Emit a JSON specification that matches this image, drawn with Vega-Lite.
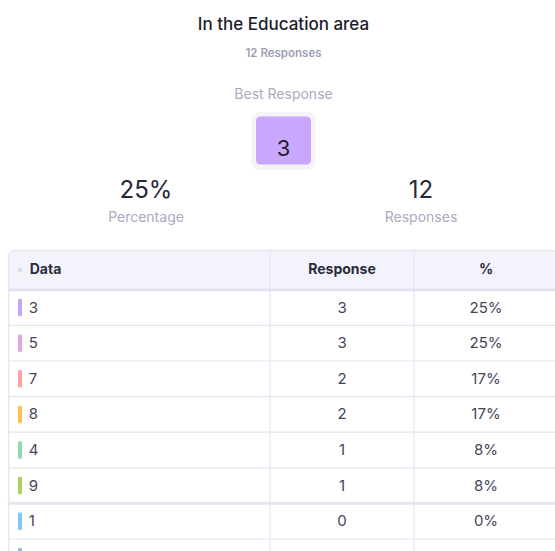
{
  "$schema": "https://vega.github.io/schema/vega-lite/v6.json",
  "background": "white",
  "padding": {"top": 15, "left": 0, "right": 0, "bottom": 0},
  "spacing": 0,
  "title": {
    "text": "In the Education area",
    "subtitle": "12 Responses",
    "anchor": "middle",
    "dx": 6,
    "offset": 0,
    "font": "Inter",
    "fontSize": 17,
    "fontWeight": 500,
    "color": "#1c1c2c",
    "subtitleFont": "Inter",
    "subtitleFontSize": 11.5,
    "subtitleFontWeight": 600,
    "subtitleColor": "#9d9fb8",
    "subtitlePadding": 14
  },
  "config": {
    "view": {"stroke": null},
    "font": "Inter",
    "axis": {"disable": true},
    "legend": {"disable": true}
  },
  "datasets": {
    "summary": [
      {"metric": "Percentage", "tier": "stats", "value": "25%"},
      {"metric": "Best Response", "tier": "best", "value": "3"},
      {"metric": "Responses", "tier": "stats", "value": "12"}
    ],
    "columns": [
      {"column": "Data", "index": 0},
      {"column": "Response", "index": 1},
      {"column": "%", "index": 2}
    ],
    "rows": [
      {"rank": 1, "data": "3", "response": 3, "pct": 0.25},
      {"rank": 2, "data": "5", "response": 3, "pct": 0.25},
      {"rank": 3, "data": "7", "response": 2, "pct": 0.17},
      {"rank": 4, "data": "8", "response": 2, "pct": 0.17},
      {"rank": 5, "data": "4", "response": 1, "pct": 0.08},
      {"rank": 6, "data": "9", "response": 1, "pct": 0.08},
      {"rank": 7, "data": "1", "response": 0, "pct": 0},
      {"rank": 8, "data": "2", "response": 0, "pct": 0},
      {"rank": 9, "data": "6", "response": 0, "pct": 0}
    ]
  },
  "vconcat": [
    {
      "width": 555,
      "height": 188.5,
      "data": {"name": "summary"},
      "encoding": {
        "x": {"field": "metric", "type": "nominal", "axis": null, "scale": {"type": "point", "padding": 0, "domain": ["Percentage", "Best Response", "Responses"], "range": [146, 421]}},
        "y": {"field": "tier", "type": "nominal", "axis": null, "scale": {"type": "point", "padding": 0, "domain": ["best", "stats"], "range": [80.5, 130.5]}}
      },
      "layer": [
        {"transform": [{"filter": "datum.tier === 'best'"}], "mark": {"type": "rect", "width": 64, "height": 58, "fill": "#f4f4f8", "cornerRadius": 8, "yOffset": 0.5}},
        {"transform": [{"filter": "datum.tier === 'best'"}], "mark": {"type": "rect", "width": 55, "height": 48, "fill": "#c8a7fd", "cornerRadius": 4}},
        {"transform": [{"filter": "datum.tier === 'best'"}], "mark": {"type": "text", "fontSize": 22, "dy": 8, "color": "#1d1d30", "baseline": "middle"}, "encoding": {"text": {"field": "value"}}},
        {"transform": [{"filter": "datum.tier === 'best'"}], "mark": {"type": "text", "fontSize": 14, "dy": -45.5, "color": "#a9abbf", "baseline": "middle"}, "encoding": {"text": {"field": "metric"}}},
        {"transform": [{"filter": "datum.tier === 'stats'"}], "mark": {"type": "text", "fontSize": 24, "color": "#27273a", "baseline": "middle"}, "encoding": {"text": {"field": "value"}}},
        {"transform": [{"filter": "datum.tier === 'stats'"}], "mark": {"type": "text", "fontSize": 14, "dy": 27.6, "color": "#a9abbf", "baseline": "middle"}, "encoding": {"text": {"field": "metric"}}}
      ]
    },
    {
      "width": 555,
      "height": 303.5,
      "data": {"name": "rows"},
      "layer": [
        {
          "data": {"values": [{"part": "header"}]},
          "mark": {"type": "rect", "fill": "#f3f4fb", "cornerRadiusTopLeft": 6, "clip": true},
          "encoding": {
            "x": {"datum": 0, "type": "quantitative", "axis": null, "scale": {"domain": [0, 1, 2, 3], "range": [8.7, 270, 414, 558], "nice": false, "zero": false}},
            "x2": {"datum": 3},
            "y": {"datum": -0.5, "type": "quantitative", "axis": null, "scale": {"domain": [-0.5, 0.5, 9.5], "range": [1.3, 40.8, 361.2], "nice": false, "zero": false}},
            "y2": {"datum": 0.5}
          }
        },
        {
          "data": {"values": [{"part": "frame"}]},
          "mark": {"type": "rect", "fillOpacity": 0, "fill": "white", "stroke": "#e3e5f1", "strokeWidth": 1.3, "cornerRadius": 6, "clip": true},
          "encoding": {
            "x": {"datum": 0, "type": "quantitative", "axis": null, "scale": {"domain": [0, 1, 2, 3], "range": [8.7, 270, 414, 558], "nice": false, "zero": false}},
            "x2": {"datum": 3},
            "y": {"datum": -0.5, "type": "quantitative", "axis": null, "scale": {"domain": [-0.5, 0.5, 9.5], "range": [1.3, 40.8, 361.2], "nice": false, "zero": false}},
            "y2": {"datum": 9.5}
          }
        },
        {
          "data": {"name": "columns"},
          "transform": [{"filter": "datum.index > 0"}],
          "mark": {"type": "rule", "stroke": "#e4e6f2", "strokeWidth": 1.3, "clip": true},
          "encoding": {
            "x": {"field": "index", "type": "quantitative", "axis": null, "scale": {"domain": [0, 1, 2, 3], "range": [8.7, 270, 414, 558], "nice": false, "zero": false}},
            "y": {"datum": -0.5, "type": "quantitative", "axis": null, "scale": {"domain": [-0.5, 0.5, 9.5], "range": [1.3, 40.8, 361.2], "nice": false, "zero": false}},
            "y2": {"datum": 9.5}
          }
        },
        {
          "data": {"values": [{"part": "header"}]},
          "mark": {"type": "rule", "stroke": "#dde0f0", "strokeWidth": 2.7, "clip": true},
          "encoding": {
            "x": {"datum": 0, "type": "quantitative", "axis": null, "scale": {"domain": [0, 1, 2, 3], "range": [8.7, 270, 414, 558], "nice": false, "zero": false}},
            "x2": {"datum": 3},
            "y": {"datum": 0.5, "type": "quantitative", "axis": null, "scale": {"domain": [-0.5, 0.5, 9.5], "range": [1.3, 40.8, 361.2], "nice": false, "zero": false}}
          }
        },
        {
          "mark": {"type": "rule", "stroke": "#e3e5f2", "yOffset": 17.8, "clip": true},
          "encoding": {
            "x": {"datum": 0, "type": "quantitative", "axis": null, "scale": {"domain": [0, 1, 2, 3], "range": [8.7, 270, 414, 558], "nice": false, "zero": false}},
            "x2": {"datum": 3},
            "y": {"field": "rank", "type": "quantitative", "axis": null, "scale": {"domain": [-0.5, 0.5, 9.5], "range": [1.3, 40.8, 361.2], "nice": false, "zero": false}},
            "strokeWidth": {"condition": {"test": "datum.rank === 6", "value": 2.6}, "value": 1.2}
          }
        },
        {
          "mark": {"type": "tick", "orient": "vertical", "thickness": 4, "size": 18, "cornerRadius": 2, "xOffset": 11.3, "opacity": 1, "clip": true},
          "encoding": {
            "x": {"datum": 0, "type": "quantitative", "axis": null, "scale": {"domain": [0, 1, 2, 3], "range": [8.7, 270, 414, 558], "nice": false, "zero": false}},
            "y": {"field": "rank", "type": "quantitative", "axis": null, "scale": {"domain": [-0.5, 0.5, 9.5], "range": [1.3, 40.8, 361.2], "nice": false, "zero": false}},
            "color": {"field": "data", "type": "nominal", "legend": null, "scale": {"domain": ["3", "5", "7", "8", "4", "9", "1", "2", "6"], "range": ["#c3a4fb", "#e6a2e8", "#fca3a0", "#ffbf4f", "#8fdaa8", "#abd159", "#7dcafa", "#a0b0d8", "#f0a8c8"]}}
          }
        },
        {
          "transform": [{"filter": "datum.rank <= 7"}],
          "mark": {"type": "text", "align": "left", "baseline": "middle", "dx": 20, "fontSize": 15, "color": "#45455a", "clip": true},
          "encoding": {
            "x": {"datum": 0, "type": "quantitative", "axis": null, "scale": {"domain": [0, 1, 2, 3], "range": [8.7, 270, 414, 558], "nice": false, "zero": false}},
            "y": {"field": "rank", "type": "quantitative", "axis": null, "scale": {"domain": [-0.5, 0.5, 9.5], "range": [1.3, 40.8, 361.2], "nice": false, "zero": false}},
            "text": {"field": "data"}
          }
        },
        {
          "transform": [{"filter": "datum.rank <= 7"}],
          "mark": {"type": "text", "align": "center", "baseline": "middle", "fontSize": 15, "color": "#45455a", "clip": true},
          "encoding": {
            "x": {"datum": 1.5, "type": "quantitative", "axis": null, "scale": {"domain": [0, 1, 2, 3], "range": [8.7, 270, 414, 558], "nice": false, "zero": false}},
            "y": {"field": "rank", "type": "quantitative", "axis": null, "scale": {"domain": [-0.5, 0.5, 9.5], "range": [1.3, 40.8, 361.2], "nice": false, "zero": false}},
            "text": {"field": "response", "type": "quantitative"}
          }
        },
        {
          "transform": [{"filter": "datum.rank <= 7"}],
          "mark": {"type": "text", "align": "center", "baseline": "middle", "fontSize": 15, "color": "#45455a", "clip": true},
          "encoding": {
            "x": {"datum": 2.5, "type": "quantitative", "axis": null, "scale": {"domain": [0, 1, 2, 3], "range": [8.7, 270, 414, 558], "nice": false, "zero": false}},
            "y": {"field": "rank", "type": "quantitative", "axis": null, "scale": {"domain": [-0.5, 0.5, 9.5], "range": [1.3, 40.8, 361.2], "nice": false, "zero": false}},
            "text": {"field": "pct", "type": "quantitative", "format": ".0%"}
          }
        },
        {
          "data": {"name": "columns"},
          "transform": [{"filter": "datum.index === 0"}],
          "mark": {"type": "square", "size": 13, "xOffset": 11.3, "color": "#d6d9ea", "opacity": 1, "clip": true},
          "encoding": {
            "x": {"field": "index", "type": "quantitative", "axis": null, "scale": {"domain": [0, 1, 2, 3], "range": [8.7, 270, 414, 558], "nice": false, "zero": false}},
            "y": {"datum": 0, "type": "quantitative", "axis": null, "scale": {"domain": [-0.5, 0.5, 9.5], "range": [1.3, 40.8, 361.2], "nice": false, "zero": false}}
          }
        },
        {
          "data": {"name": "columns"},
          "transform": [{"filter": "datum.index === 0"}],
          "mark": {"type": "text", "align": "left", "baseline": "middle", "dx": 21, "fontSize": 14, "fontWeight": 700, "color": "#2b2b3b", "clip": true},
          "encoding": {
            "x": {"field": "index", "type": "quantitative", "axis": null, "scale": {"domain": [0, 1, 2, 3], "range": [8.7, 270, 414, 558], "nice": false, "zero": false}},
            "y": {"datum": 0, "type": "quantitative", "axis": null, "scale": {"domain": [-0.5, 0.5, 9.5], "range": [1.3, 40.8, 361.2], "nice": false, "zero": false}},
            "text": {"field": "column"}
          }
        },
        {
          "data": {"name": "columns"},
          "transform": [{"filter": "datum.index > 0"}],
          "mark": {"type": "text", "align": "center", "baseline": "middle", "xOffset": 72, "fontSize": 14, "fontWeight": 700, "color": "#2b2b3b", "clip": true},
          "encoding": {
            "x": {"field": "index", "type": "quantitative", "axis": null, "scale": {"domain": [0, 1, 2, 3], "range": [8.7, 270, 414, 558], "nice": false, "zero": false}},
            "y": {"datum": 0, "type": "quantitative", "axis": null, "scale": {"domain": [-0.5, 0.5, 9.5], "range": [1.3, 40.8, 361.2], "nice": false, "zero": false}},
            "text": {"field": "column"}
          }
        }
      ]
    }
  ]
}
